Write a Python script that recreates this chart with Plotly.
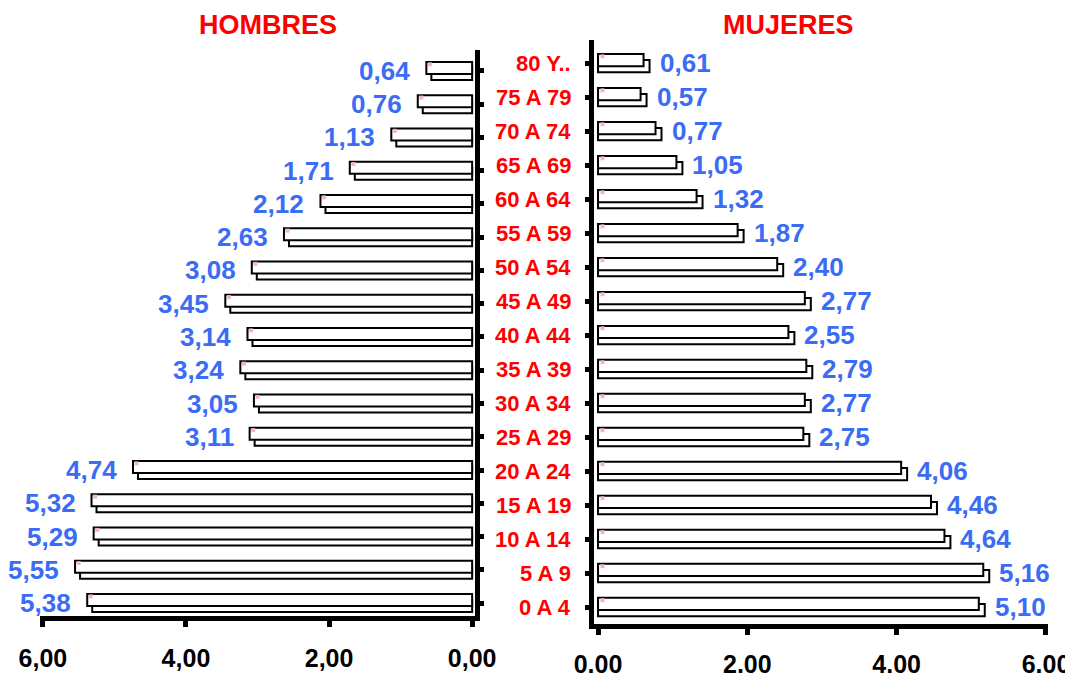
import plotly.graph_objects as go

# ---- data ----
ages = ["0 A 4", "5 A 9", "10 A 14", "15 A 19", "20 A 24", "25 A 29", "30 A 34",
        "35 A 39", "40 A 44", "45 A 49", "50 A 54", "55 A 59", "60 A 64",
        "65 A 69", "70 A 74", "75 A 79", "80 Y.."]
hombres = [5.38, 5.55, 5.29, 5.32, 4.74, 3.11, 3.05, 3.24, 3.14, 3.45, 3.08,
           2.63, 2.12, 1.71, 1.13, 0.76, 0.64]
mujeres = [5.10, 5.16, 4.64, 4.46, 4.06, 2.75, 2.77, 2.79, 2.55, 2.77, 2.40,
           1.87, 1.32, 1.05, 0.77, 0.57, 0.61]
x_ticks = [6, 4, 2, 0]
left_tick_text = ["6,00", "4,00", "2,00", "0,00"]
right_ticks = [0, 2, 4, 6]
right_tick_text = ["0.00", "2.00", "4.00", "6.00"]

FONT = "Liberation Sans, Arial, sans-serif"
BLUE = "#3a6cf4"
RED = "#ff0000"

rows = list(range(len(ages)))
W = 1073
H = 675
OFF = 8  # page body margin


def px(x):
    return (x - OFF) / W


def py(y):
    return 1 - (y - OFF) / H


fig = go.Figure()

bar_style = dict(orientation="h", marker=dict(color="white", line=dict(color="black", width=2)),
                 width=0.36, hoverinfo="skip", showlegend=False)

# left (hombres): shadow then front
fig.add_trace(go.Bar(x=[v - 0.07 for v in hombres], y=rows, offset=-0.27,
                     xaxis="x", yaxis="y", **bar_style))
fig.add_trace(go.Bar(x=hombres, y=rows, offset=-0.09, xaxis="x", yaxis="y", **bar_style))
# right (mujeres)
fig.add_trace(go.Bar(x=[v + 0.08 for v in mujeres], y=rows, offset=-0.27,
                     xaxis="x2", yaxis="y2", **bar_style))
fig.add_trace(go.Bar(x=mujeres, y=rows, offset=-0.09, xaxis="x2", yaxis="y2", **bar_style))

# small pink markers at bar corners
fig.add_trace(go.Scatter(x=[v - 0.05 for v in hombres], y=[r + 0.2 for r in rows],
                         mode="markers", marker=dict(symbol="square", size=4, color="#f2b8c0"),
                         xaxis="x", yaxis="y", hoverinfo="skip", showlegend=False))
fig.add_trace(go.Scatter(x=[0.06] * len(rows), y=[r + 0.2 for r in rows],
                         mode="markers", marker=dict(symbol="square", size=4, color="#f2b8c0"),
                         xaxis="x2", yaxis="y2", hoverinfo="skip", showlegend=False))

annotations = []
for r, v in zip(rows, hombres):
    annotations.append(dict(x=v, y=r, xref="x", yref="y", text="<b>%s</b>" % f"{v:.2f}".replace(".", ","),
                            showarrow=False, xanchor="right", yanchor="middle", xshift=-14,
                            font=dict(family=FONT, size=26, color=BLUE)))
for r, v in zip(rows, mujeres):
    annotations.append(dict(x=v, y=r, xref="x2", yref="y2", text="<b>%s</b>" % f"{v:.2f}".replace(".", ","),
                            showarrow=False, xanchor="left", yanchor="middle", xshift=14,
                            font=dict(family=FONT, size=26, color=BLUE)))
for r, a in zip(rows, ages):
    annotations.append(dict(x=px(573), y=r, xref="paper", yref="y2", text="<b>%s</b>" % a,
                            showarrow=False, xanchor="right", yanchor="middle",
                            font=dict(family=FONT, size=22, color=RED)))
annotations.append(dict(x=px(268), y=py(25), xref="paper", yref="paper", text="<b>HOMBRES</b>",
                        showarrow=False, xanchor="center", yanchor="middle",
                        font=dict(family=FONT, size=27, color=RED)))
annotations.append(dict(x=px(788), y=py(25), xref="paper", yref="paper", text="<b>MUJERES</b>",
                        showarrow=False, xanchor="center", yanchor="middle",
                        font=dict(family=FONT, size=27, color=RED)))

tickfont = dict(family=FONT, size=25, color="black", weight="bold")

fig.update_layout(
    width=W, height=H,
    margin=dict(l=0, r=0, t=0, b=0, autoexpand=False),
    paper_bgcolor="white", plot_bgcolor="white",
    barmode="overlay",
    annotations=annotations,
    xaxis=dict(domain=[px(40), px(475)], range=[6.04, -0.04], tickvals=x_ticks, ticktext=left_tick_text,
               showgrid=False, zeroline=False, showline=True, linecolor="black", linewidth=5,
               ticks="outside", ticklen=6, tickwidth=5, tickcolor="black", tickfont=tickfont,
               ticklabelstandoff=10, anchor="y", automargin=False),
    yaxis=dict(domain=[py(616), py(50)], range=[-0.39, 16.63], side="right",
               tickvals=rows, showticklabels=False, showgrid=False, zeroline=False,
               showline=True, linecolor="black", linewidth=5,
               ticks="outside", ticklen=4, tickwidth=5, tickcolor="black", anchor="x", automargin=False),
    xaxis2=dict(domain=[px(594), px(1048)], range=[-0.054, 6.027], tickvals=right_ticks, ticktext=right_tick_text,
                showgrid=False, zeroline=False, showline=True, linecolor="black", linewidth=5,
                ticks="outside", ticklen=6, tickwidth=5, tickcolor="black", tickfont=tickfont,
                ticklabelstandoff=8, anchor="y2", automargin=False),
    yaxis2=dict(domain=[py(624), py(40)], range=[-0.5, 16.68], side="left",
                tickvals=rows, showticklabels=False, showgrid=False, zeroline=False,
                showline=True, linecolor="black", linewidth=5,
                ticks="outside", ticklen=4, tickwidth=5, tickcolor="black", anchor="x2", automargin=False),
)

fig.write_html("out.html")
